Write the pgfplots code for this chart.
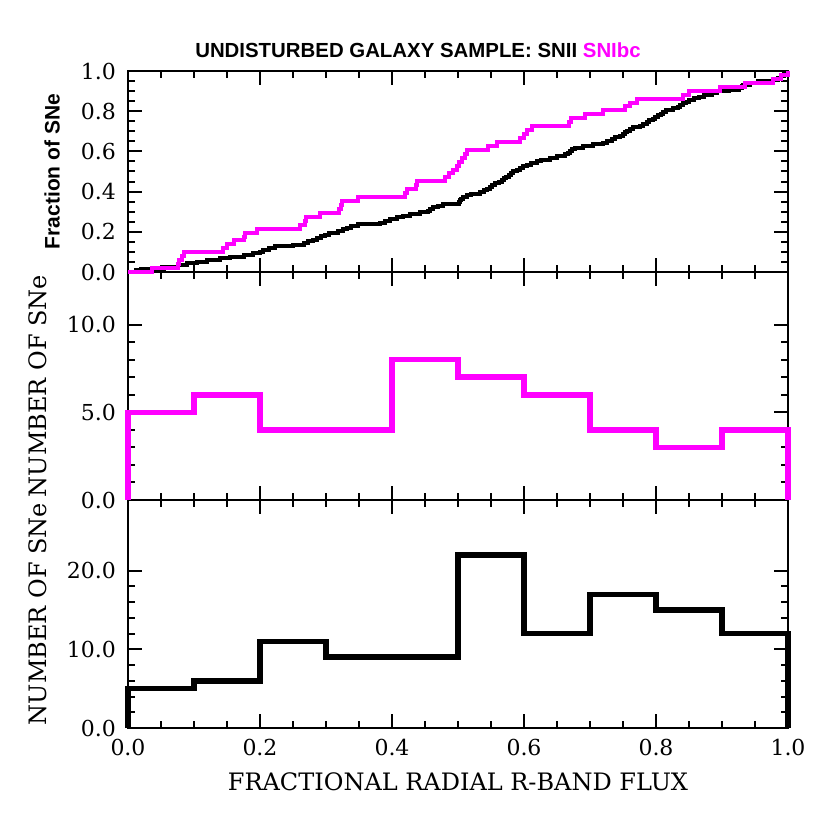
\documentclass[border=0pt]{standalone}
\usepackage{fontspec}
\setmainfont{DejaVu Serif}
\newfontfamily\titlefont{Liberation Sans}
\usepackage{pgfplots}
\usepackage{pgfplotstable}
\pgfplotsset{compat=1.18}
\definecolor{mag}{RGB}{255,0,255}

% SNIbc cumulative: x and running count (N=51)
\pgfplotstableread{
x k
0 0
0.036 1
0.075 2
0.078 3
0.082 4
0.085 5
0.144 6
0.150 7
0.160 8
0.175 9
0.177 10
0.195 11
0.261 12
0.268 13
0.270 14
0.291 15
0.320 16
0.322 17
0.324 18
0.349 19
0.420 20
0.422 21
0.436 22
0.438 23
0.481 24
0.487 25
0.493 26
0.498 27
0.502 28
0.506 29
0.510 30
0.513 31
0.546 32
0.559 33
0.594 34
0.600 35
0.605 36
0.612 37
0.668 38
0.671 39
0.692 40
0.720 41
0.753 42
0.760 43
0.771 44
0.841 45
0.850 46
0.897 47
0.935 48
0.978 49
0.990 50
1.000 51
}\ibc

% SNII cumulative: x and running count (N=118)
\pgfplotstableread{
x k
0 0
0.012 1
0.020 2
0.055 3
0.075 4
0.090 5
0.105 6
0.120 7
0.140 8
0.155 9
0.175 10
0.190 11
0.200 12
0.205 13
0.213 14
0.222 15
0.250 16
0.266 17
0.272 18
0.281 19
0.287 20
0.293 21
0.298 22
0.305 23
0.318 24
0.326 25
0.332 26
0.338 27
0.349 28
0.382 29
0.390 30
0.397 31
0.408 32
0.417 33
0.427 34
0.442 35
0.455 36
0.458 37
0.462 38
0.470 39
0.478 40
0.501 41
0.503 42
0.505 43
0.507 44
0.513 45
0.520 46
0.533 47
0.540 48
0.544 49
0.548 50
0.552 51
0.556 52
0.562 53
0.566 54
0.569 55
0.573 56
0.577 57
0.580 58
0.584 59
0.589 60
0.594 61
0.598 62
0.604 63
0.610 64
0.619 65
0.625 66
0.639 67
0.650 68
0.662 69
0.667 70
0.670 71
0.673 72
0.677 73
0.690 74
0.705 75
0.720 76
0.725 77
0.733 78
0.738 79
0.745 80
0.750 81
0.753 82
0.756 83
0.760 84
0.765 85
0.776 86
0.780 87
0.786 88
0.790 89
0.795 90
0.798 91
0.803 92
0.807 93
0.811 94
0.815 95
0.826 96
0.833 97
0.837 98
0.841 99
0.845 100
0.850 101
0.857 102
0.865 103
0.872 104
0.885 105
0.892 106
0.910 107
0.925 108
0.930 109
0.932 110
0.942 111
0.955 112
0.978 113
0.985 114
0.990 115
0.994 116
0.997 117
1.000 118
}\ii

\pgfplotsset{
  panel/.style={
    scale only axis, width=330pt,
    xmin=0, xmax=1, clip=false,
    axis line style={line width=1.2pt},
    every tick/.style={line width=1pt, black},
    major tick length=7pt, minor tick length=3.5pt,
    tick align=inside,
    xtick pos=both, ytick pos=both,
    xticklabel pos=lower, yticklabel pos=left,
    xtick={0,0.2,0.4,0.6,0.8,1}, minor x tick num=3,
    /pgf/number format/assume math mode=true,
    /pgf/number format/fixed, /pgf/number format/fixed zerofill,
    /pgf/number format/precision=1,
    tick label style={font=\fontsize{11}{13}\selectfont},
    yticklabel style={xshift=-2.5pt},
    xticklabel style={yshift=-2pt},
    ylabel style={font=\fontsize{12}{14}\selectfont, anchor=center},
  }
}

\begin{document}
\begin{tikzpicture}
\path[use as bounding box] (0,0) rectangle (415pt,415pt);

% bottom panel: SNII histogram
\begin{axis}[panel, at={(64pt,51pt)}, anchor=south west, height=114pt,
  ymin=0, ymax=29, ytick={0,10,20}, minor y tick num=4,
  xlabel={FRACTIONAL RADIAL R-BAND FLUX},
  xlabel style={font=\fontsize{12}{14}\selectfont, at={(axis description cs:0.5,-0.235)}, anchor=center},
  ylabel={NUMBER OF SNe},
  ylabel style={at={(axis description cs:-0.136,0.5)}}]
\addplot[const plot, black, line width=2.8pt] coordinates {
(0,0) (0,5) (0.1,6) (0.2,11) (0.3,9) (0.4,9) (0.5,22) (0.6,12) (0.7,17) (0.8,15) (0.9,12) (1,12) (1,0)};
\end{axis}

% middle panel: SNIbc histogram
\begin{axis}[panel, at={(64pt,165pt)}, anchor=south west, height=114pt,
  ymin=0, ymax=13, ytick={0,5,10}, minor y tick num=4,
  xticklabels={},
  ylabel={NUMBER OF SNe},
  ylabel style={at={(axis description cs:-0.136,0.5)}}]
\addplot[const plot, mag, line width=2.8pt] coordinates {
(0,0) (0,5) (0.1,6) (0.2,4) (0.3,4) (0.4,8) (0.5,7) (0.6,6) (0.7,4) (0.8,3) (0.9,4) (1,4) (1,0)};
\end{axis}

% top panel: cumulative distributions
\begin{axis}[panel, at={(64pt,279pt)}, anchor=south west, height=100.5pt,
  ymin=0, ymax=1, ytick={0,0.2,0.4,0.6,0.8,1}, minor y tick num=3,
  xticklabels={},
  ylabel={Fraction of SNe},
  ylabel style={font=\titlefont\bfseries\fontsize{10.5}{12}\selectfont, at={(axis description cs:-0.115,0.5)}}]
\addplot[const plot, black, line width=2pt] table[x=x, y expr=\thisrow{k}/118] {\ii};
\addplot[const plot, mag, line width=2pt] table[x=x, y expr=\thisrow{k}/51] {\ibc};
\end{axis}

\node[font=\titlefont\bfseries\fontsize{10.2}{12}\selectfont] at (209pt,390pt)
  {UNDISTURBED GALAXY SAMPLE: SNII \textcolor{mag}{SNIbc}};
\end{tikzpicture}
\end{document}
